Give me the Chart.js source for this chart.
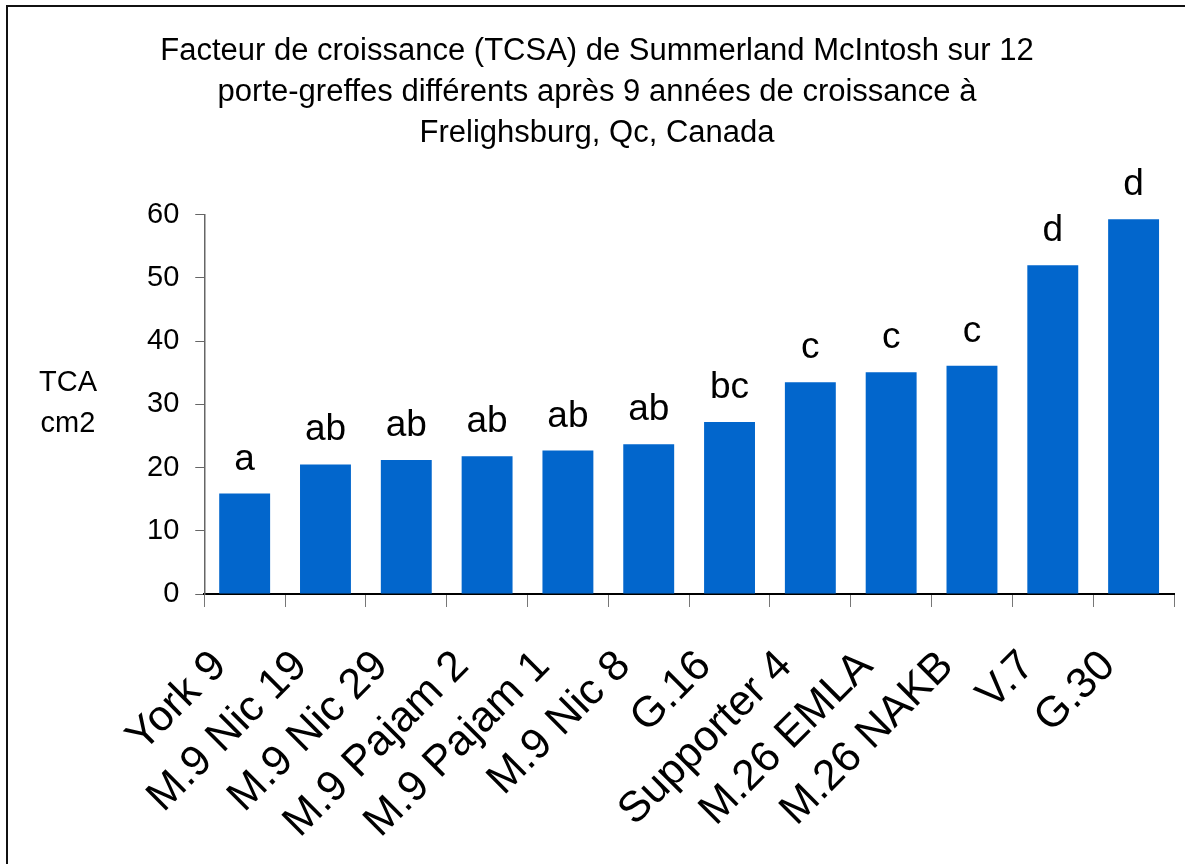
<!DOCTYPE html>
<html>
<head>
<meta charset="utf-8">
<script src="https://cdn.jsdelivr.net/npm/chart.js@4.4.1/dist/chart.umd.min.js"></script>
<style>
  html, body { margin: 0; padding: 0; background: #fff; }
  #wrap { position: absolute; left: 0; top: 0; width: 1185px; height: 864px; }
  #frame { position: absolute; left: 6px; top: 5px; width: 1185px; height: 870px;
           border-left: 2px solid #111; border-top: 2px solid #111; pointer-events: none; }
</style>
</head>
<body>
<div id="wrap">
  <canvas id="chart" width="1185" height="864"></canvas>
  <div id="frame"></div>
</div>
<script>
// categories (rootstocks)
const rootstocks = ['York 9', 'M.9 Nic 19', 'M.9 Nic 29', 'M.9 Pajam 2', 'M.9 Pajam 1', 'M.9 Nic 8',
                    'G.16', 'Supporter 4', 'M.26 EMLA', 'M.26 NAKB', 'V.7', 'G.30'];

// trunk cross-sectional area, cm2
const tcaValues = [15.9, 20.5, 21.2, 21.8, 22.7, 23.7, 27.2, 33.5, 35.1, 36.1, 52.0, 59.3];

// significance letters shown above the bars
const groupLetters = ['a', 'ab', 'ab', 'ab', 'ab', 'ab', 'bc', 'c', 'c', 'c', 'd', 'd'];

const titleLines = [
  'Facteur de croissance (TCSA) de Summerland McIntosh sur 12',
  'porte-greffes différents après 9 années de croissance à',
  'Frelighsburg, Qc, Canada'
];
const yTitleLines = ['TCA', 'cm2'];

const FONT = "'Liberation Sans', Arial, sans-serif";

// letters over each bar
const letterPlugin = {
  id: 'letters',
  afterDatasetsDraw(chart) {
    const ctx = chart.ctx;
    const meta = chart.getDatasetMeta(0);
    ctx.save();
    ctx.font = '37px ' + FONT;
    ctx.fillStyle = '#000';
    ctx.textAlign = 'center';
    ctx.textBaseline = 'alphabetic';
    meta.data.forEach((bar, i) => {
      ctx.fillText(groupLetters[i], bar.x, bar.y - 24);
    });
    ctx.restore();
  }
};

// horizontal y axis caption "TCA / cm2"
const yTitlePlugin = {
  id: 'ytitle',
  afterDraw(chart) {
    const ctx = chart.ctx;
    const area = chart.chartArea;
    const mid = (area.top + area.bottom) / 2;
    ctx.save();
    ctx.font = '29px ' + FONT;
    ctx.fillStyle = '#000';
    ctx.textAlign = 'center';
    ctx.textBaseline = 'middle';
    ctx.fillText(yTitleLines[0], 68, mid - 21);
    ctx.fillText(yTitleLines[1], 68, mid + 20);
    ctx.restore();
  }
};

new Chart(document.getElementById('chart'), {
  type: 'bar',
  data: {
    labels: rootstocks,
    datasets: [{
      data: tcaValues,
      backgroundColor: '#0266cc',
      borderWidth: 0,
      barPercentage: 0.63,
      categoryPercentage: 1.0
    }]
  },
  options: {
    responsive: false,
    animation: false,
    layout: { padding: { left: 20, right: 11, top: 0, bottom: 4 } },
    plugins: {
      legend: { display: false },
      tooltip: { enabled: false },
      title: {
        display: true,
        text: titleLines,
        color: '#000',
        font: { family: FONT, size: 31, weight: 'normal', lineHeight: 1.32 },
        padding: { top: 31, bottom: 61 }
      }
    },
    scales: {
      x: {
        // fixed band for the slanted labels, no extra side padding
        afterFit(scale) {
          scale.height = 266;
          scale.paddingLeft = 0;
          scale.paddingRight = 0;
        },
        grid: { drawOnChartArea: false, drawTicks: true, tickLength: 13, color: '#777', offset: true },
        border: { color: '#000', width: 2 },
        ticks: {
          autoSkip: false,
          maxRotation: 45,
          minRotation: 45,
          color: '#000',
          padding: 34,
          labelOffset: -25,
          font: { family: FONT, size: 43 }
        }
      },
      y: {
        min: 0,
        max: 60,
        // leave room on the left for the horizontal "TCA cm2" caption
        afterFit(scale) { scale.width += 111; },
        grid: { drawOnChartArea: false, drawTicks: true, tickLength: 9, color: '#666' },
        border: { color: '#666', width: 1.5 },
        ticks: {
          stepSize: 10,
          color: '#000',
          padding: 16,
          font: { family: FONT, size: 29 }
        }
      }
    }
  },
  plugins: [letterPlugin, yTitlePlugin]
});
</script>
</body>
</html>
